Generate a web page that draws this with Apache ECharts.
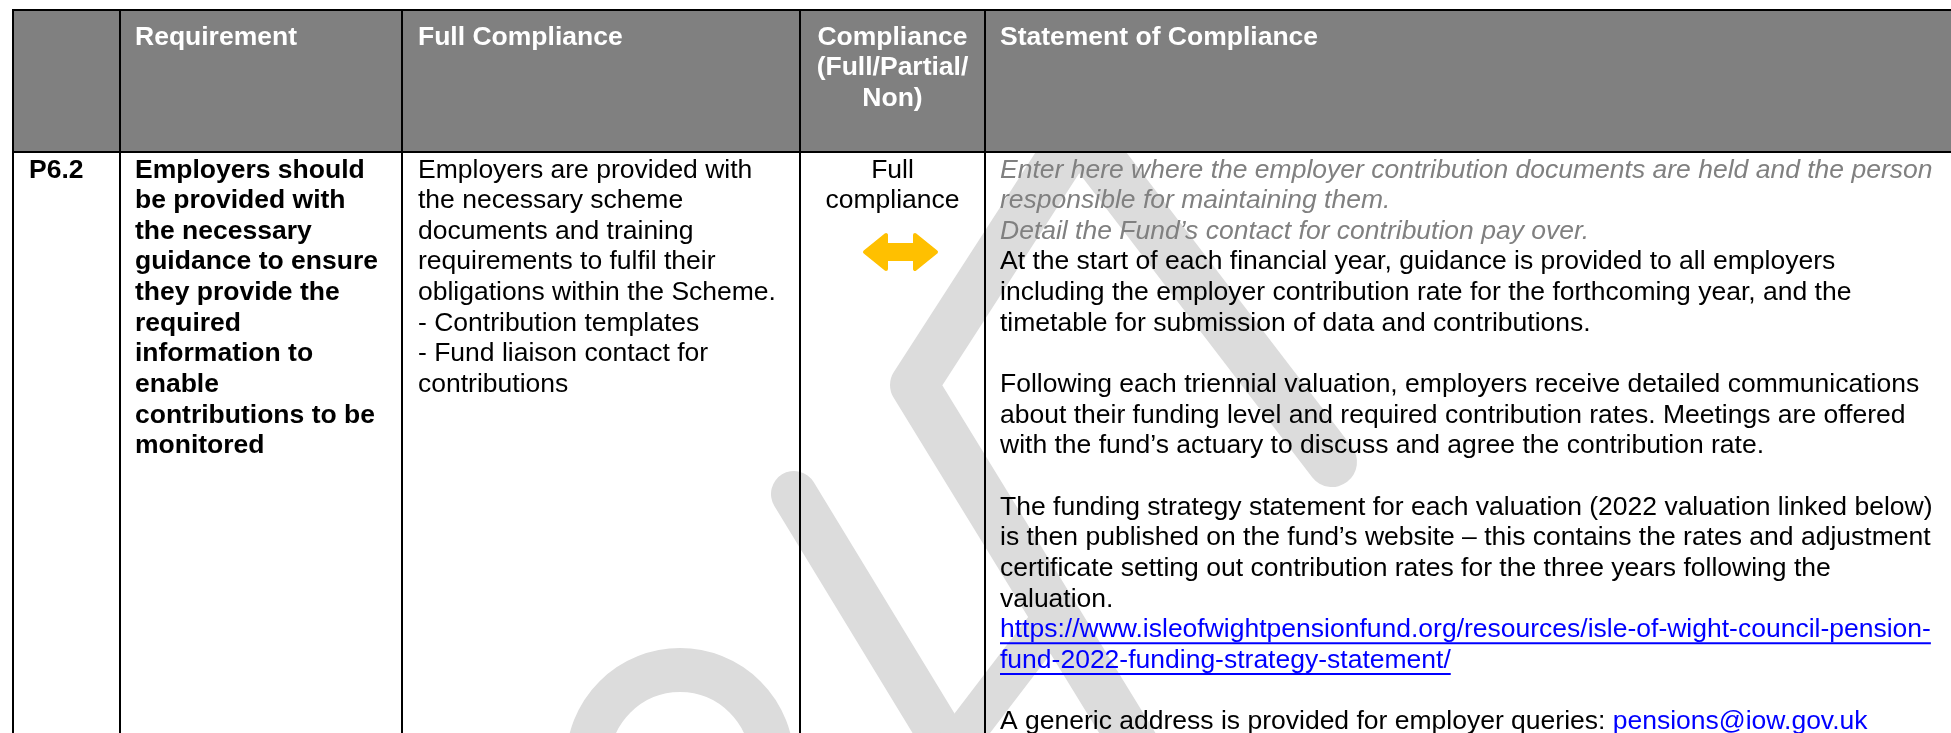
<!DOCTYPE html>
<html>
<head>
<meta charset="utf-8">
<script src="https://cdn.jsdelivr.net/npm/echarts@6/dist/echarts.min.js"></script>
<style>
html,body{margin:0;padding:0;background:#fff;}
#main{width:1951px;height:733px;}
</style>
</head>
<body>
<div id="main"></div>
<script>
// ---- table content (data) ----
const headers = ["", "Requirement", "Full Compliance", "Compliance\n(Full/Partial/\nNon)", "Statement of Compliance"];
const refCol = ["P6.2"];
const requirementLines = ["Employers should", "be provided with", "the necessary", "guidance to ensure", "they provide the", "required", "information to", "enable", "contributions to be", "monitored"];
const fullComplianceLines = ["Employers are provided with", "the necessary scheme", "documents and training", "requirements to fulfil their", "obligations within the Scheme.", "- Contribution templates", "- Fund liaison contact for", "contributions"];
const complianceLines = ["Full", "compliance"];
const complianceStatus = ["full"];
// statement lines: [text, kind]  g = grey italic guidance, n = normal, l = link
const statementLines = [
  ["Enter here where the employer contribution documents are held and the person", "g"],
  ["responsible for maintaining them.", "g"],
  ["Detail the Fund\u2019s contact for contribution pay over.", "g"],
  ["At the start of each financial year, guidance is provided to all employers", "n"],
  ["including the employer contribution rate for the forthcoming year, and the", "n"],
  ["timetable for submission of data and contributions.", "n"],
  ["", "n"],
  ["Following each triennial valuation, employers receive detailed communications", "n"],
  ["about their funding level and required contribution rates. Meetings are offered", "n"],
  ["with the fund\u2019s actuary to discuss and agree the contribution rate.", "n"],
  ["", "n"],
  ["The funding strategy statement for each valuation (2022 valuation linked below)", "n"],
  ["is then published on the fund\u2019s website \u2013 this contains the rates and adjustment", "n"],
  ["certificate setting out contribution rates for the three years following the", "n"],
  ["valuation.", "n"],
  ["https://www.isleofwightpensionfund.org/resources/isle-of-wight-council-pension-", "l"],
  ["fund-2022-funding-strategy-statement/", "l"],
  ["", "n"],
  ["A generic address is provided for employer queries: ", "n"]
];
const emailText = "pensions@iow.gov.uk";

// ---- layout / style ----
const FONT = "Liberation Sans, Arial, sans-serif";
const FS = 26.5;
const colLines = [13, 120, 402, 800, 985];
const textX = [29, 135, 418, 892.5, 1000];
const TOP = 10, HEAD_BOTTOM = 152;
const headBase = 46.5, bodyBase = 179.5, LH = 30.65;
const HEADER_BG = "#808080";
const WM = "#dcdcdc";

const ctx = document.createElement("canvas").getContext("2d");
function measure(t, weight, style) {
  ctx.font = (style || "normal") + " " + (weight || "normal") + " " + FS + "px " + FONT;
  return ctx.measureText(t).width;
}

const els = [];
function txt(str, x, baseline, opts) {
  opts = opts || {};
  els.push({
    type: "text", z: 10, silent: true,
    x: x, y: baseline - 0.35 * FS,
    style: {
      text: str, x: 0, y: 0,
      fill: opts.fill || "#000",
      font: (opts.italic ? "italic " : "") + (opts.bold ? "bold " : "") + FS + "px " + FONT,
      align: opts.align || "left",
      verticalAlign: "middle"
    }
  });
}

// "DRAFT" watermark fragments (behind everything)
function wm(points, w) {
  els.push({type: "polyline", z: 1, silent: true, shape: {points: points},
    style: {stroke: WM, lineWidth: w, lineCap: "round", lineJoin: "round", fill: null}});
}
els.push({type: "arc", z: 1, silent: true,
  shape: {cx: 680, cy: 762, r: 92, startAngle: Math.PI, endAngle: 2 * Math.PI},
  style: {stroke: WM, lineWidth: 44, fill: null}});
wm([[1085, 120], [914, 385], [1150, 770]], 48);
wm([[794, 494], [962, 770]], 46);
wm([[958, 742], [1045, 628]], 40);
wm([[1070, 120], [1332, 462]], 50);

// header background
els.push({type: "rect", z: 5, silent: true, shape: {x: colLines[0], y: TOP, width: 1951 - colLines[0], height: HEAD_BOTTOM - TOP}, style: {fill: HEADER_BG}});

// header texts
headers.forEach((h, i) => {
  if (!h) return;
  h.split("\n").forEach((line, k) => {
    txt(line, textX[i], headBase + k * LH, {bold: true, fill: "#fff", align: i === 3 ? "center" : "left"});
  });
});

// body
txt(refCol[0], textX[0], bodyBase, {bold: true});
requirementLines.forEach((l, k) => txt(l, textX[1], bodyBase + k * LH, {bold: true}));
fullComplianceLines.forEach((l, k) => txt(l, textX[2], bodyBase + k * LH));
complianceLines.forEach((l, k) => txt(l, textX[3], bodyBase + k * LH, {align: "center"}));

// compliance arrow (full = yellow double arrow)
if (complianceStatus[0] === "full") {
  const cx = 900.5, cy = 252;
  const pts = [[-35.5, 0], [-14.5, -17], [-14.5, -7], [14.5, -7], [14.5, -17], [35.5, 0], [14.5, 17], [14.5, 7], [-14.5, 7], [-14.5, 17]]
    .map(p => [cx + p[0], cy + p[1]]);
  els.push({type: "polygon", z: 10, silent: true, shape: {points: pts}, style: {fill: "#ffc000", stroke: "#ffc000", lineWidth: 4, lineJoin: "round"}});
}

statementLines.forEach((s, k) => {
  const [t, st] = s;
  if (!t) return;
  const b = bodyBase + k * LH;
  if (st === "g") txt(t, textX[4], b, {italic: true, fill: "#808080"});
  else if (st === "l") {
    txt(t, textX[4], b, {fill: "#0000ff"});
    const w = measure(t);
    els.push({type: "line", z: 10, silent: true, shape: {x1: textX[4], y1: b + 4, x2: textX[4] + w, y2: b + 4}, style: {stroke: "#0000ff", lineWidth: 2}});
  } else txt(t, textX[4], b);
});
{
  const last = statementLines[statementLines.length - 1][0];
  const b = bodyBase + (statementLines.length - 1) * LH;
  txt(emailText, textX[4] + measure(last), b, {fill: "#0000ff"});
}

// grid lines
els.push({type: "line", z: 12, silent: true, shape: {x1: colLines[0] - 1, y1: TOP, x2: 1951, y2: TOP}, style: {stroke: "#000", lineWidth: 2}});
els.push({type: "line", z: 12, silent: true, shape: {x1: colLines[0] - 1, y1: HEAD_BOTTOM, x2: 1951, y2: HEAD_BOTTOM}, style: {stroke: "#000", lineWidth: 2}});
colLines.forEach(x => {
  els.push({type: "line", z: 12, silent: true, shape: {x1: x, y1: TOP - 1, x2: x, y2: 733}, style: {stroke: "#000", lineWidth: 2}});
});

const chart = echarts.init(document.getElementById("main"), null, {renderer: "canvas"});
chart.setOption({animation: false, backgroundColor: "#fff", graphic: {elements: els}});
</script>
</body>
</html>
